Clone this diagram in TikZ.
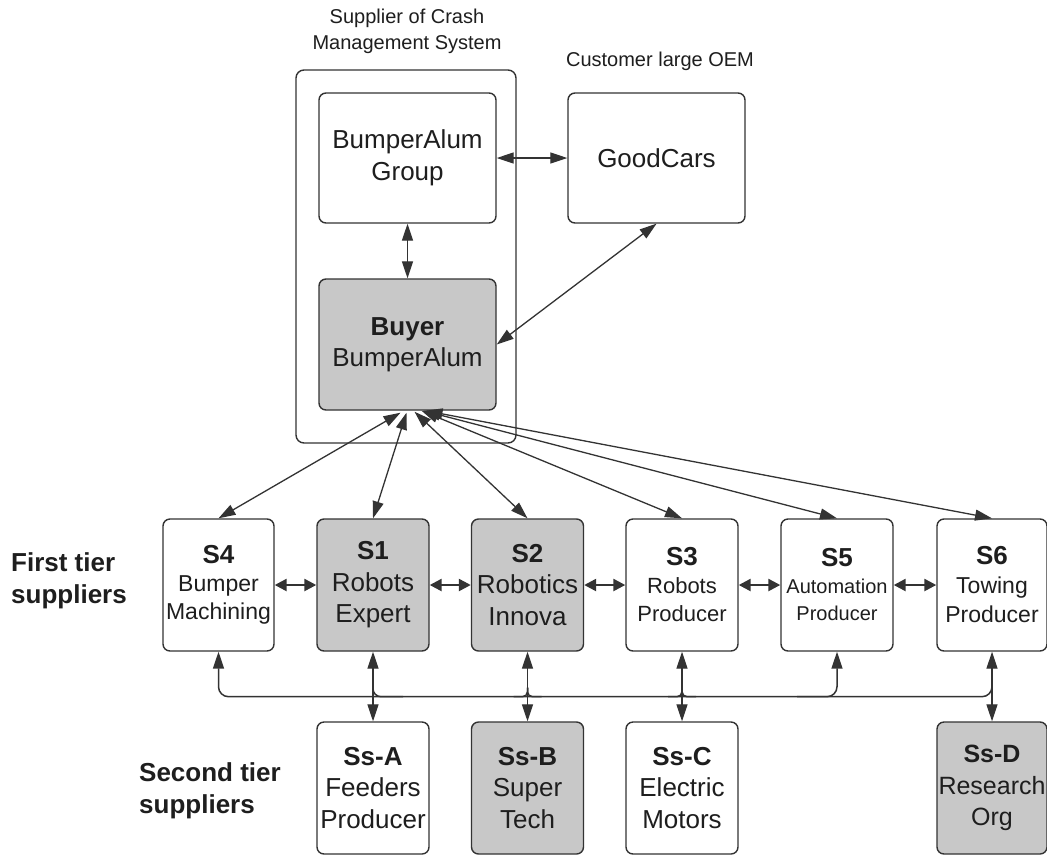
\documentclass[tikz,border=0pt]{standalone}
\usepackage{fontspec}
\setmainfont{Liberation Sans}
\usetikzlibrary{arrows.meta,calc}
\definecolor{linec}{HTML}{333333}
\definecolor{boxgray}{HTML}{C8C8C8}
\definecolor{txt}{HTML}{1E1E1E}
\newcommand{\fs}[2]{\fontsize{#1}{#2}\selectfont}
\begin{document}
\begin{tikzpicture}[x=1pt,y=-1pt,
  box/.style={draw=linec, line width=1.4pt, rounded corners=7pt, fill=white,
    minimum width=112pt, minimum height=132pt, align=center, inner sep=0pt, text=txt,
    font=\fs{26}{31.5}},
  gbox/.style={box, fill=boxgray},
  bigbox/.style={box, minimum width=177pt, minimum height=130pt},
  lbl/.style={text=txt, align=center, inner sep=0pt},
  arr/.style={draw=linec, line width=1.3pt,
    {Triangle[length=17pt,width=11pt]}-{Triangle[length=17pt,width=11pt]}},
  harr/.style={draw=linec, line width=2.4pt,
    {Triangle[length=12pt,width=12pt]}-{Triangle[length=12pt,width=12pt]}},
  bus/.style={draw=linec, line width=1.5pt}
]
\useasboundingbox (0,0) rectangle (1047,855);
\fill[white] (0,0) rectangle (1047,855);

% top part
\node[box, minimum width=220pt, minimum height=373pt, rounded corners=8pt] (cms) at (406,256.5) {};
\node[lbl, font=\fs{20}{26}] (cmslbl) at (407,31) {Supplier of Crash\\Management System};
\node[lbl, font=\fs{20}{24}] (oemlbl) at (660,61) {Customer large OEM};

\node[bigbox] (bag) at (407.5,158) {BumperAlum\\Group};
\node[bigbox] (good) at (656.5,158) {GoodCars};
\node[bigbox, fill=boxgray, minimum height=131pt] (buyer) at (407.5,344.5) {\textbf{Buyer}\\BumperAlum};

% tier labels
\node[lbl, align=left, anchor=west, font=\bfseries\fs{26}{32}] (t1lbl) at (11,581) {First tier\\suppliers};
\node[lbl, align=left, anchor=west, font=\bfseries\fs{26}{32}] (t2lbl) at (139,791) {Second tier\\suppliers};

% first tier
\node[box, minimum width=111pt, font=\fs{23}{28}] (S4) at (218.5,585) {{\bfseries\fs{26}{30}S4}\\Bumper\\Machining};
\node[gbox] (S1) at (373,585) {\textbf{S1}\\Robots\\Expert};
\node[gbox] (S2) at (527.5,585) {\textbf{S2}\\Robotics\\Innova};
\node[box, font=\fs{22}{28}] (S3) at (682,585) {{\bfseries\fs{26}{30}S3}\\Robots\\Producer};
\node[box, font=\fs{20}{27}] (S5) at (837,585) {{\bfseries\fs{26}{31}S5}\\Automation\\Producer};
\node[box, minimum width=110pt, font=\fs{23}{29}] (S6) at (992,585) {{\bfseries\fs{26}{30}S6}\\Towing\\Producer};

% second tier
\node[box] (SsA) at (373,788) {\textbf{Ss-A}\\Feeders\\Producer};
\node[gbox] (SsB) at (527.5,788) {\textbf{Ss-B}\\Super\\Tech};
\node[box] (SsC) at (682,788) {\textbf{Ss-C}\\Electric\\Motors};
\node[gbox, minimum width=110pt, font=\fs{25}{31.5}] (SsD) at (992,788) {\textbf{Ss-D}\\Research\\Org};

% top connectors
\draw[arr] (bag.east) -- (good.west);
\draw[arr] (bag.south) -- (buyer.north);
\draw[arr] (good.south) -- (buyer.east);

% buyer to first tier
\draw[arr] ($(buyer.south)+(-7,2)$) -- (S4.north);
\draw[arr] ($(buyer.south)+(-1,2)$) -- (S1.north);
\draw[arr] ($(buyer.south)+(7,1)$) -- (S2.north);
\draw[arr] ($(buyer.south)+(14,0)$) -- (S3.north);
\draw[arr] ($(buyer.south)+(16,0)$) -- (S5.north);
\draw[arr] ($(buyer.south)+(18,0)$) -- (S6.north);

% first tier neighbours
\draw[harr] (S4.east) -- (S1.west);
\draw[harr] (S1.east) -- (S2.west);
\draw[harr] (S2.east) -- (S3.west);
\draw[harr] (S3.east) -- (S5.west);
\draw[harr] (S5.east) -- (S6.west);

% first to second tier
\draw[arr] (S1.south) -- (SsA.north);
\draw[arr] (S2.south) -- (SsB.north);
\draw[arr] (S3.south) -- (SsC.north);
\draw[arr] (S6.south) -- (SsD.north);

% bus
\draw[bus, rounded corners=10pt, -{Triangle[length=17pt,width=11pt]}]
  ($(S6.south)+(0,20)$) |- ($(S4.south)+(0,45)$) -- (S4.south);
\draw[bus, rounded corners=10pt, -{Triangle[length=17pt,width=11pt]}]
  ($(S5.south)+(-40,45)$) -| (S5.south);
\draw[bus, rounded corners=8pt] ($(S1.south)+(30,45)$) -| ($(S1.south)+(0,28)$);
\draw[bus, rounded corners=5pt] ($(S2.south)+(-14,45)$) -| ($(S2.south)+(0,36)$);
\draw[bus, rounded corners=5pt] ($(S2.south)+(14,45)$) -| ($(S2.south)+(0,36)$);
\draw[bus, rounded corners=5pt] ($(S3.south)+(-14,45)$) -| ($(S3.south)+(0,36)$);
\draw[bus, rounded corners=5pt] ($(S3.south)+(14,45)$) -| ($(S3.south)+(0,36)$);
\end{tikzpicture}
\end{document}
